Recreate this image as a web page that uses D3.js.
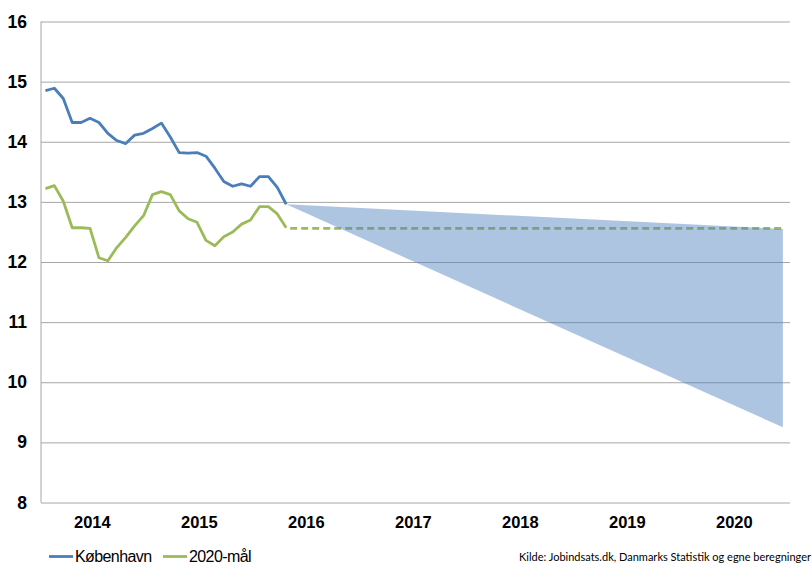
<!DOCTYPE html>
<html>
<head>
<meta charset="utf-8">
<script src="https://cdn.jsdelivr.net/npm/d3@7"></script>
<style>
  body { margin: 0; background: #fff; }
  #chart { width: 812px; height: 565px; }
</style>
</head>
<body>
<div id="chart"></div>
<script>
//Colores fijos
const COLOR_BLUE = '#4A7EBB',
  COLOR_GREEN = '#9BBB59',
  COLOR_FILL = '#4F81BD',
  COLOR_GRID = '#A6A6A6';

//Datos: meses desde jan 2014 (indice 0)
const years = ['2014', '2015', '2016', '2017', '2018', '2019', '2020'];
const yTicks = [8, 9, 10, 11, 12, 13, 14, 15, 16];

const kobenhavn = [14.85, 14.89, 14.72, 14.32, 14.32, 14.39, 14.32, 14.14, 14.02, 13.97,
  14.11, 14.14, 14.22, 14.31, 14.08, 13.82, 13.81, 13.82, 13.76, 13.56,
  13.34, 13.26, 13.30, 13.26, 13.42, 13.42, 13.24, 12.96];

const maal = [13.22, 13.27, 13.01, 12.57, 12.57, 12.56, 12.07, 12.02, 12.24, 12.41,
  12.60, 12.77, 13.12, 13.17, 13.12, 12.85, 12.72, 12.66, 12.36, 12.27,
  12.42, 12.50, 12.63, 12.70, 12.92, 12.92, 12.80, 12.57];

//Maal-linje (stiplet) og prognose-omraade
const targetMonths = [27, 82.7];
const targetValues = [12.56, 12.56];
const forecastMonths = [27, 82.7];
const forecastHigh = [12.96, 12.55];
const forecastLow = [12.96, 9.25];

const legendItems = [
  { name: 'København', color: COLOR_BLUE },
  { name: '2020-mål', color: COLOR_GREEN }
];
const sourceText = 'Kilde: Jobindsats.dk, Danmarks Statistik og egne beregninger';

let margin = {top: 21.5, right: 22, bottom: 62.5, left: 41},
  width = 812 - margin.left - margin.right,
  height = 565 - margin.top - margin.bottom;

let svg = d3.select('#chart')
  .append('svg')
    .attr('width', 812)
    .attr('height', 565)
  .append('g')
    .attr('transform', 'translate(' + margin.left + ',' + margin.top + ')');

let x = d3.scaleLinear()
  .domain([-0.5, years.length * 12 - 0.5])
  .range([0, width]);

let y = d3.scaleLinear()
  .domain([8, 16])
  .range([height, 0]);

//Gridlines + y labels
let yAxis = svg.append('g')
  .call(d3.axisLeft(y).tickValues(yTicks).tickSize(-width).tickPadding(14));
yAxis.select('.domain').remove();
yAxis.selectAll('.tick line').attr('stroke', COLOR_GRID).attr('stroke-width', 1);
yAxis.selectAll('.tick text')
  .attr('font-family', 'Liberation Sans, Arial, sans-serif')
  .attr('font-weight', 'bold')
  .attr('font-size', '17.5px')
  .attr('fill', '#000');

svg.append('line')
  .attr('x1', 0).attr('x2', 0)
  .attr('y1', 0).attr('y2', height)
  .attr('stroke', COLOR_GRID);

//x labels (centrado en cada año)
let xAxis = svg.append('g')
  .attr('transform', 'translate(0,' + height + ')')
  .call(d3.axisBottom(x)
    .tickValues(years.map((d, i) => i * 12 + 5.5 - 0.3))
    .tickFormat((d, i) => years[i])
    .tickSize(0)
    .tickPadding(14));
xAxis.select('.domain').remove();
xAxis.selectAll('.tick text')
  .attr('font-family', 'Liberation Sans, Arial, sans-serif')
  .attr('font-weight', 'bold')
  .attr('font-size', '16.5px')
  .attr('fill', '#000');

//Linje 2020-maal stiplet
let lineT = d3.line()
  .x((d, i) => x(targetMonths[i]))
  .y(d => y(d));

svg.append('path')
  .datum(targetValues)
  .attr('d', lineT)
  .attr('fill', 'none')
  .attr('stroke', COLOR_GREEN)
  .attr('stroke-width', 2.6)
  .attr('stroke-dasharray', '7,4')
  .attr('stroke-dashoffset', 7);

//Prognose
let area = d3.area()
  .x((d, i) => x(forecastMonths[i]))
  .y0((d, i) => y(forecastLow[i]))
  .y1(d => y(d));

svg.append('path')
  .datum(forecastHigh)
  .attr('d', area)
  .attr('fill', COLOR_FILL)
  .attr('fill-opacity', 0.46);

//Series
let line = d3.line()
  .x((d, i) => x(i))
  .y(d => y(d));

[[maal, COLOR_GREEN], [kobenhavn, COLOR_BLUE]].forEach(function(s) {
  svg.append('path')
    .datum(s[0])
    .attr('d', line)
    .attr('fill', 'none')
    .attr('stroke', s[1])
    .attr('stroke-width', 2.8)
    .attr('stroke-linejoin', 'round');
});

//Leyenda
let root = d3.select('#chart svg');
let legendX = [49, 163];
legendItems.forEach(function(d, i) {
  let g = root.append('g').attr('transform', 'translate(' + legendX[i] + ',556.5)');
  g.append('line')
    .attr('x1', 0).attr('x2', 24)
    .attr('stroke', d.color)
    .attr('stroke-width', 2.8);
  g.append('text')
    .attr('x', 26)
    .attr('dy', '0.35em')
    .attr('font-family', 'Liberation Sans, Arial, sans-serif')
    .attr('font-size', '16px')
    .attr('letter-spacing', '-0.6px')
    .text(d.name);
});

root.append('text')
  .attr('x', 811)
  .attr('y', 561)
  .attr('text-anchor', 'end')
  .attr('font-family', 'Lato, sans-serif')
  .attr('font-size', '11px')
  .attr('fill', '#000')
  .text(sourceText);
</script>
</body>
</html>
